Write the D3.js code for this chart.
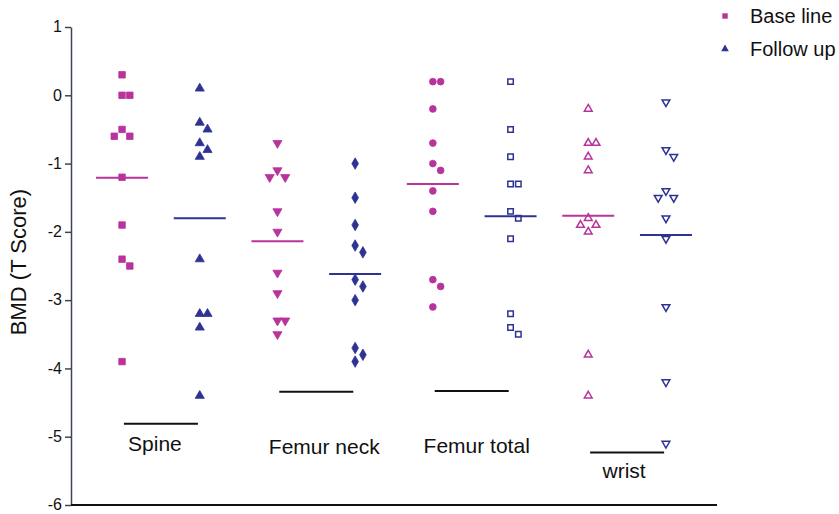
<!DOCTYPE html>
<html>
<head>
<meta charset="utf-8">
<script src="https://cdn.jsdelivr.net/npm/d3@7"></script>
<style>
  body { margin: 0; background: #fff; }
  svg { display: block; font-family: "Liberation Sans", Arial, sans-serif; }
</style>
</head>
<body>
<div id="chart"></div>
<script>
const sites = ["Spine", "Femur neck", "Femur total", "wrist"];
const visits = ["Base line", "Follow up"];
const yTicks = [1, 0, -1, -2, -3, -4, -5, -6];

// BMD T scores, one array per site and visit
const spineBase   = [0.3, 0, 0, -0.5, -0.6, -0.6, -1.2, -1.9, -2.4, -2.5, -3.9];
const spineFollow = [0.1, -0.4, -0.5, -0.7, -0.8, -0.9, -2.4, -3.2, -3.2, -3.4, -4.4];
const neckBase    = [-0.7, -1.1, -1.2, -1.2, -1.7, -2.0, -2.6, -2.9, -3.3, -3.3, -3.5];
const neckFollow  = [-1.0, -1.5, -1.9, -2.2, -2.3, -2.7, -2.8, -3.0, -3.7, -3.8, -3.9];
const totalBase   = [0.2, 0.2, -0.2, -0.7, -1.0, -1.1, -1.4, -1.7, -2.7, -2.8, -3.1];
const totalFollow = [0.2, -0.5, -0.9, -1.3, -1.3, -1.7, -1.8, -2.1, -3.2, -3.4, -3.5];
const wristBase   = [-0.2, -0.7, -0.7, -0.9, -1.1, -1.8, -1.9, -1.9, -2.0, -3.8, -4.4];
const wristFollow = [-0.1, -0.8, -0.9, -1.4, -1.5, -1.5, -1.8, -2.1, -3.1, -4.2, -5.1];

const seriesValues = [spineBase, spineFollow, neckBase, neckFollow,
                      totalBase, totalFollow, wristBase, wristFollow];

// black bar and site name under each pair, in T score units
const siteBarAt  = [-4.81, -4.34, -4.33, -5.23];
const siteNameAt = [-5.21, -5.26, -5.24, -5.61];

const width = 839, height = 514;
const pink = "#b8339b", blue = "#2e3393";

const svg = d3.select("#chart").append("svg")
  .attr("width", width)
  .attr("height", height);

const y = d3.scaleLinear().domain([1, -6]).range([27, 505]);

const columns = [];
sites.forEach(s => visits.forEach(v => columns.push(s + "|" + v)));
const x = d3.scalePoint().domain(columns).range([71, 717]).padding(0.657);
const siteX = s => (x(s + "|" + visits[0]) + x(s + "|" + visits[1])) / 2;
const jitterStep = x.step() * 0.1;
const nameShift = [-6, 8, 5, -3]; // site names sit a little off centre

// marker look of each column
const markers = [
  { type: d3.symbolSquare,   size: 42, open: false, rot: 0 },
  { type: d3.symbolTriangle, size: 36, open: false, rot: 0 },
  { type: d3.symbolTriangle, size: 36, open: false, rot: 180 },
  { type: d3.symbolDiamond,  size: 38, open: false, rot: 0 },
  { type: d3.symbolCircle,   size: 36, open: false, rot: 0 },
  { type: d3.symbolSquare,   size: 30, open: true,  rot: 0 },
  { type: d3.symbolTriangle, size: 26, open: true,  rot: 0 },
  { type: d3.symbolTriangle, size: 26, open: true,  rot: 180 }
];

// spread close points sideways, like a column scatter
function spread(values) {
  const placed = [];
  const order = [0, 1, -1, 2, -2];
  values.slice().sort((a, b) => b - a).forEach(v => {
    const py = y(v);
    for (const slot of order) {
      const hit = placed.some(p => p.slot === slot && Math.abs(p.py - py) < 8);
      if (!hit) { placed.push({ v, py, slot }); break; }
    }
  });
  return placed;
}

// y axis
const yAxis = svg.append("g")
  .attr("transform", "translate(71,0)")
  .call(d3.axisLeft(y).tickValues(yTicks).tickSize(6).tickSizeOuter(0)
    .tickFormat(d => String(d)));
yAxis.select(".domain").attr("stroke", "#3c4650").attr("stroke-width", 1.5);
yAxis.selectAll(".tick line").attr("stroke", "#3c4650").attr("stroke-width", 1.5);
yAxis.selectAll(".tick text")
  .attr("x", -9)
  .attr("dy", "0.3em")
  .style("font-size", "16px")
  .style("font-family", "'Liberation Sans', Arial, sans-serif")
  .attr("fill", "#111");

svg.append("text")
  .attr("transform", "translate(26,262) rotate(-90)")
  .attr("text-anchor", "middle")
  .style("font-size", "22px")
  .attr("fill", "#111")
  .text("BMD (T Score)");

// bottom line
svg.append("line")
  .attr("x1", 71).attr("x2", 717)
  .attr("y1", y(-6)).attr("y2", y(-6))
  .attr("stroke", "#111").attr("stroke-width", 2);

// points and mean lines
seriesValues.forEach((vals, i) => {
  const col = columns[i];
  const color = i % 2 === 0 ? pink : blue;
  const m = markers[i];
  const sym = d3.symbol().type(m.type).size(m.size);
  const g = svg.append("g");

  g.selectAll("path")
    .data(spread(vals))
    .join("path")
    .attr("d", sym)
    .attr("transform", d => `translate(${x(col) + d.slot * jitterStep},${d.py}) rotate(${m.rot})`)
    .attr("fill", m.open ? "#fff" : color)
    .attr("stroke", color)
    .attr("stroke-width", m.open ? 1.5 : 0.8);

  const mean = d3.mean(vals);
  g.append("line")
    .attr("x1", x(col) - 26).attr("x2", x(col) + 26)
    .attr("y1", y(mean)).attr("y2", y(mean))
    .attr("stroke", color).attr("stroke-width", 2);
});

// site bars and names
sites.forEach((s, i) => {
  const cx = siteX(s);
  svg.append("line")
    .attr("x1", cx - 37).attr("x2", cx + 37)
    .attr("y1", y(siteBarAt[i])).attr("y2", y(siteBarAt[i]))
    .attr("stroke", "#111").attr("stroke-width", 2);
  svg.append("text")
    .attr("x", cx + nameShift[i])
    .attr("y", y(siteNameAt[i]))
    .attr("text-anchor", "middle")
    .style("font-size", "21px")
    .attr("fill", "#111")
    .text(s);
});

// legend
const legend = svg.append("g").attr("transform", "translate(725,0)");
visits.forEach((v, i) => {
  const m = markers[i];
  legend.append("path")
    .attr("d", d3.symbol().type(m.type).size(m.size * 0.7))
    .attr("transform", `translate(0,${16 + i * 33})`)
    .attr("fill", i === 0 ? pink : blue);
  legend.append("text")
    .attr("x", 25)
    .attr("y", 16 + i * 33)
    .attr("dy", "0.35em")
    .style("font-size", "20px")
    .attr("fill", "#111")
    .text(v);
});
</script>
</body>
</html>
